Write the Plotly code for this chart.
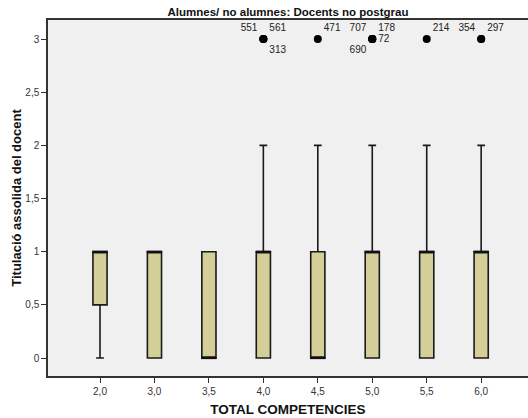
import plotly.graph_objects as go

# Box summaries of "Titulació assolida del docent" per TOTAL COMPETENCIES group
categories = ["2,0", "3,0", "3,5", "4,0", "4,5", "5,0", "5,5", "6,0"]
q1 = [0.5, 0, 0, 0, 0, 0, 0, 0]
median = [1, 1, 0, 1, 0, 1, 1, 1]
q3 = [1, 1, 1, 1, 1, 1, 1, 1]
lower_whisker = [0, 0, 0, 0, 0, 0, 0, 0]
upper_whisker = [1, 1, 1, 2, 2, 2, 2, 2]

# Outlying cases (case number, group, value)
outlier_ids = ["551", "561", "313", "471", "707", "178", "690", "72", "214", "354", "297"]
outlier_cats = ["4,0", "4,0", "4,0", "4,5", "5,0", "5,0", "5,0", "5,0", "5,5", "6,0", "6,0"]
outlier_vals = [3, 3, 3, 3, 3, 3, 3, 3, 3, 3, 3]
label_side = ["top left", "top right", "bottom right", "top right", "top left",
              "top right", "bottom left", "middle right", "top right", "top left", "top right"]

y_ticks = [0, 0.5, 1, 1.5, 2, 2.5, 3]
y_tick_text = ["0", "0,5", "1", "1,5", "2", "2,5", "3"]

FONT = "Liberation Sans, Arial, sans-serif"

fig = go.Figure()

fig.add_trace(go.Box(
    x=categories,
    q1=q1, median=median, q3=q3,
    lowerfence=lower_whisker, upperfence=upper_whisker,
    fillcolor="#d4cf98",
    line=dict(color="#1a1a1a", width=1.6),
    width=0.26,
    whiskerwidth=0.55,
    boxpoints=False,
    showlegend=False,
    hoverinfo="skip",
))

# slightly heavier median bars
fig.add_trace(go.Scatter(
    x=categories, y=median, mode="markers",
    marker=dict(symbol="line-ew", size=11, line=dict(color="#111111", width=2.2)),
    showlegend=False, hoverinfo="skip",
))

# outliers with their case labels
fig.add_trace(go.Scatter(
    x=outlier_cats, y=outlier_vals, mode="markers+text",
    marker=dict(color="#000000", size=8),
    text=outlier_ids, textposition=label_side,
    textfont=dict(family=FONT, size=10, color="#222222"),
    showlegend=False, hoverinfo="skip", cliponaxis=False,
))

fig.update_layout(
    width=528, height=418,
    margin=dict(l=48, r=0, t=20, b=42),
    paper_bgcolor="#ffffff",
    plot_bgcolor="#f0f0f0",
    font=dict(family=FONT, size=10, color="#222222"),
    title=dict(text="<b>Alumnes/ no alumnes: Docents no postgrau</b>",
               x=288 / 528, xanchor="center", y=1 - 12 / 418, yanchor="middle",
               font=dict(size=11.5, color="#111111")),
)

fig.update_xaxes(
    type="category", categoryorder="array", categoryarray=categories,
    range=[-0.955, 7.86],
    showline=True, linecolor="#333333", linewidth=1.5, mirror=True,
    ticks="outside", ticklen=5, tickcolor="#333333",
    showgrid=False, zeroline=False,
    tickfont=dict(size=10, color="#333333"),
    title=dict(text="<b>TOTAL COMPETENCIES</b>", font=dict(size=13.5, color="#111111"), standoff=9),
)

fig.update_yaxes(
    range=[-0.169, 3.179],
    tickvals=y_ticks, ticktext=y_tick_text,
    showline=True, linecolor="#333333", linewidth=1.5,
    ticks="outside", ticklen=5, tickcolor="#333333",
    showgrid=False, zeroline=False,
    tickfont=dict(size=10, color="#333333"),
    title=dict(text="<b>Titulació assolida del docent</b>", font=dict(size=13, color="#111111"), standoff=1),
)

fig.write_html("out.html")
